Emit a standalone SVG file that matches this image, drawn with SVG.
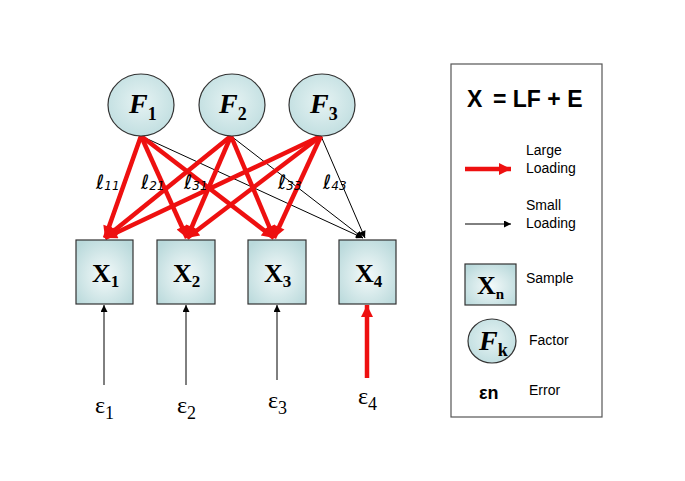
<svg xmlns="http://www.w3.org/2000/svg" width="685" height="481" viewBox="0 0 685 481">
<defs>
<radialGradient id="gBox" cx="50%" cy="55%" r="65%">
<stop offset="0" stop-color="#f4fafa"/>
<stop offset="1" stop-color="#b9d9db"/>
</radialGradient>
<radialGradient id="gCirc" cx="50%" cy="45%" r="55%">
<stop offset="0" stop-color="#e6f3f3"/>
<stop offset="1" stop-color="#c2dfe1"/>
</radialGradient>
<marker id="aRed" viewBox="0 0 10 10" refX="10" refY="5" markerWidth="14" markerHeight="12" markerUnits="userSpaceOnUse" orient="auto">
<path d="M0,0 L10,5 L0,10 Z" fill="#ee1010"/>
</marker>
<marker id="aBlk" viewBox="0 0 10 10" refX="10" refY="5" markerWidth="8" markerHeight="7" markerUnits="userSpaceOnUse" orient="auto">
<path d="M0,0 L10,5 L0,10 Z" fill="#000"/>
</marker>
</defs>
<style>
.box{fill:url(#gBox);stroke:#333;stroke-width:1.2}
.circ{fill:url(#gCirc);stroke:#333;stroke-width:1.2}
.big{stroke:#ee1010;stroke-width:4.5;fill:none;marker-end:url(#aRed)}
.small{stroke:#000;stroke-width:1;fill:none;marker-end:url(#aBlk)}
.ft{font-family:"Liberation Serif","Times New Roman",serif;font-weight:bold;font-style:italic;font-size:28px;fill:#000}
.fs{font-family:"Liberation Serif","Times New Roman",serif;font-weight:bold;font-style:normal;font-size:18px}
.xt{font-family:"Liberation Serif","Times New Roman",serif;font-weight:bold;font-size:26px;fill:#000}
.xs{font-size:17px}
.et{font-family:"Liberation Serif","Times New Roman",serif;font-size:24px;fill:#000}
.es{font-size:18px}
.lt{font-family:"DejaVu Sans",sans-serif;font-style:italic;font-size:20px;fill:#000}
.ls{font-size:12px}
.leg{font-family:"Liberation Sans",Arial,sans-serif;font-size:14px;fill:#000}
</style>
<rect x="0" y="0" width="685" height="481" fill="#fff"/>

<g id="connectors">
<path class="small" d="M141,136 L363,238"/>
<path class="small" d="M231,136 L363,238"/>
<path class="small" d="M321,136 L365,238"/>
<path class="big" d="M141,136 L105,238"/>
<path class="big" d="M141,136 L187,238"/>
<path class="big" d="M141,136 L274,238"/>
<path class="big" d="M231,136 L105,238"/>
<path class="big" d="M231,136 L187,238"/>
<path class="big" d="M231,136 L274,238"/>
<path class="big" d="M321,136 L105,238"/>
<path class="big" d="M321,136 L187,238"/>
<path class="big" d="M321,136 L274,238"/>
<path class="small" d="M104,385 L104,305"/>
<path class="small" d="M186,385 L186,305"/>
<path class="small" d="M277,380 L277,305"/>
<path class="big" d="M367,378 L367,305"/>
</g>

<g id="loading-labels">
<text class="lt" x="96" y="189">ℓ<tspan class="ls" dy="1">11</tspan></text>
<text class="lt" x="141" y="189">ℓ<tspan class="ls" dy="1">21</tspan></text>
<text class="lt" x="184" y="189">ℓ<tspan class="ls" dy="1">31</tspan></text>
<text class="lt" x="278" y="189">ℓ<tspan class="ls" dy="1">33</tspan></text>
<text class="lt" x="323" y="189">ℓ<tspan class="ls" dy="1">43</tspan></text>
</g>

<g id="F1"><ellipse class="circ" cx="141" cy="105" rx="33" ry="31"/><text class="ft" x="129" y="113">F<tspan class="fs" dy="7">1</tspan></text></g>
<g id="F2"><ellipse class="circ" cx="232" cy="105" rx="33" ry="31"/><text class="ft" x="219" y="113">F<tspan class="fs" dy="7">2</tspan></text></g>
<g id="F3"><ellipse class="circ" cx="322" cy="105" rx="33" ry="31"/><text class="ft" x="310" y="113">F<tspan class="fs" dy="7">3</tspan></text></g>

<g id="X1"><rect class="box" x="76" y="240" width="57" height="64"/><text class="xt" x="92" y="282">X<tspan class="xs" dy="5">1</tspan></text></g>
<g id="X2"><rect class="box" x="157" y="240" width="58" height="64"/><text class="xt" x="173" y="282">X<tspan class="xs" dy="5">2</tspan></text></g>
<g id="X3"><rect class="box" x="248" y="240" width="58" height="64"/><text class="xt" x="264" y="282">X<tspan class="xs" dy="5">3</tspan></text></g>
<g id="X4"><rect class="box" x="339" y="240" width="57" height="64"/><text class="xt" x="355" y="282">X<tspan class="xs" dy="5">4</tspan></text></g>

<g id="e1"><text class="et" x="95" y="413">ε<tspan class="es" dy="6">1</tspan></text></g>
<g id="e2"><text class="et" x="177" y="413">ε<tspan class="es" dy="6">2</tspan></text></g>
<g id="e3"><text class="et" x="268" y="408">ε<tspan class="es" dy="6">3</tspan></text></g>
<g id="e4"><text class="et" x="358" y="404">ε<tspan class="es" dy="6">4</tspan></text></g>

<g id="legend">
<rect x="451" y="64" width="151" height="353" fill="#fff" stroke="#555" stroke-width="1.2"/>
<text x="467" y="107" font-family="Liberation Sans,Arial,sans-serif" font-weight="bold" font-size="23px">X<tspan x="493">= LF + E</tspan></text>
<path class="big" d="M465,169 L511,169"/>
<text class="leg" x="526" y="155">Large</text>
<text class="leg" x="526" y="173">Loading</text>
<path class="small" d="M465,224 L511,224"/>
<text class="leg" x="526" y="210">Small</text>
<text class="leg" x="526" y="228">Loading</text>
<rect class="box" x="465" y="264" width="51" height="41"/>
<text class="xt" x="477" y="294" font-size="24px">X<tspan font-size="15px" dy="5">n</tspan></text>
<text class="leg" x="526" y="283">Sample</text>
<ellipse class="circ" cx="492" cy="341" rx="24" ry="22"/>
<text class="ft" x="479" y="350" font-size="26px">F<tspan class="fs" font-size="16px" dy="6">k</tspan></text>
<text class="leg" x="529" y="345">Factor</text>
<text x="479" y="399" font-family="Liberation Sans,Arial,sans-serif" font-size="18px" font-weight="bold">εn</text>
<text class="leg" x="529" y="395">Error</text>
</g>
</svg>
